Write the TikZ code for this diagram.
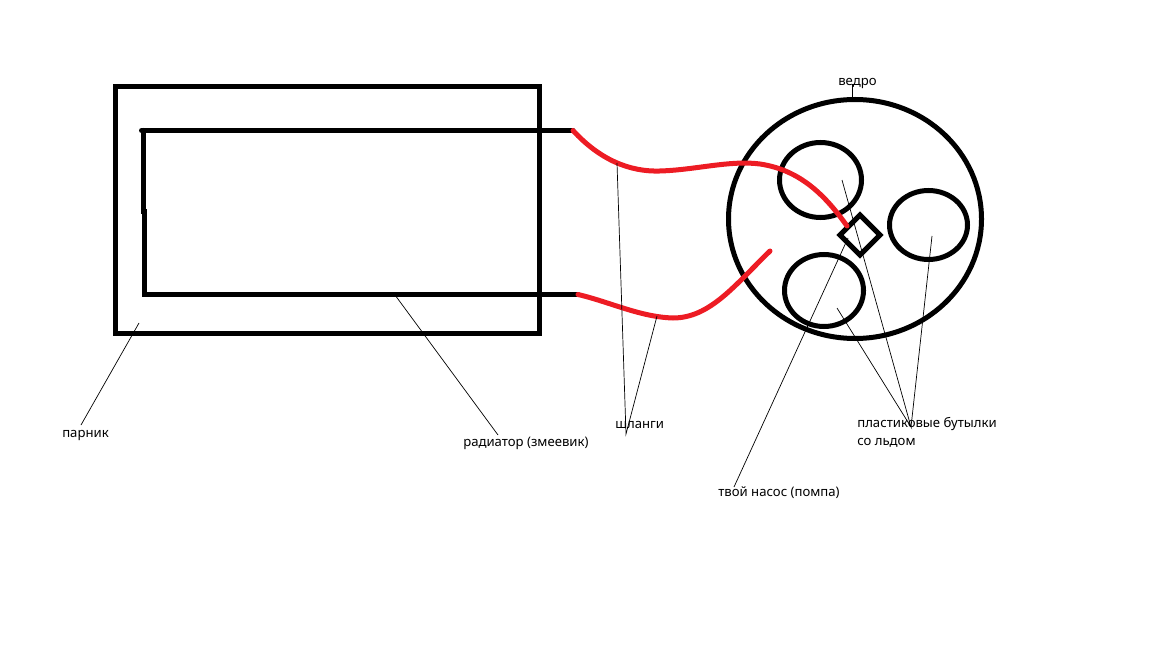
\documentclass[tikz,border=0pt]{standalone}
\usepackage{fontspec}
\setmainfont{Noto Sans}
\usetikzlibrary{shapes.geometric}
\def\px{0.25mm}
\tikzset{
  bold/.style={draw,line width=5*\px,inner sep=0pt,outer sep=0pt},
  bottle/.style={bold,ellipse},
  hose/.style={line width=5*\px,draw={rgb,255:red,237;green,28;blue,36},line cap=round},
  pipe/.style={line width=5*\px,line cap=round},
  leader/.style={line width=0.7*\px},
  txt/.style={font=\fontsize{9.35pt}{12.8pt}\selectfont,inner sep=0pt,text=black}
}
\begin{document}
\begin{tikzpicture}[x=\px,y=-\px]
\useasboundingbox (0,0) rectangle (1152,648);
\node[bold,rectangle,minimum width=424*\px,minimum height=246*\px] (box) at (327.5,210) {};
\node[bold,ellipse,minimum width=253*\px,minimum height=239*\px] (bucket) at (855,219) {};
\node[bottle,minimum width=82*\px,minimum height=75*\px] (b1) at (820.5,180) {};
\node[bottle,minimum width=78*\px,minimum height=69*\px] (b2) at (928.5,225) {};
\node[bottle,minimum width=79*\px,minimum height=72*\px] (b3) at (824,290.5) {};
\node[bold,diamond,minimum width=40*\px,minimum height=40*\px] (pump) at (860,235) {};
% radiator
\coordinate (r1) at (573,130.5);
\coordinate (r2) at (141.5,130.5);
\coordinate (r3) at (143.5,130.5);
\coordinate (r4) at (143.5,212);
\coordinate (r5) at (144.5,212);
\coordinate (r6) at (144.5,294.5);
\coordinate (r7) at (578,294.5);
\draw[pipe] (r1) -- (r2);
\draw[pipe] (r3) -- (r4) -- (r5) -- (r6) -- (r7);
% hoses
\coordinate (h1) at (847,226);
\coordinate (h2) at (770,251);
\draw[hose] (r1) .. controls (600,160) and (630,172) .. (660,171) .. controls (695,170) and (730,160) .. (760,164) .. controls (800,170) and (825,195) .. (h1);
\draw[hose] (r7) .. controls (610,302) and (640,317) .. (673,318) .. controls (710,318) and (735,285) .. (h2);
% labels
\node[txt,anchor=west] (parnik) at (62,435) {парник};
\node[txt,anchor=west] (radiator) at (463,443) {радиатор (змеевик)};
\node[txt,anchor=west] (shlangi) at (615,425) {шланги};
\node[txt,anchor=west] (nasos) at (718,493) {твой насос (помпа)};
\node[txt,anchor=north west,align=left] (bottles) at (857,417) {пластиковые бутылки\\со льдом};
\node[txt,anchor=west] (vedro) at (838,83) {ведро};
% leaders
\coordinate (l1a) at (139,323);
\coordinate (l1b) at (81,425);
\coordinate (l2a) at (395,295);
\coordinate (l2b) at (498,435);
\coordinate (l3a) at (617,163);
\coordinate (l3b) at (657,316);
\coordinate (l3c) at (626,434);
\coordinate (l4a) at (848,238);
\coordinate (l4b) at (734,487);
\coordinate (l5a) at (842,180);
\coordinate (l5b) at (837,308);
\coordinate (l5c) at (932,236);
\coordinate (l5d) at (911,427);
\coordinate (l6a) at (852,84);
\coordinate (l6b) at (852,98);
\draw[leader] (l1a) -- (l1b);
\draw[leader] (l2a) -- (l2b);
\draw[leader] (l3a) -- (l3c) -- (l3b);
\draw[leader] (l4a) -- (l4b);
\draw[leader] (l5a) -- (l5d) -- (l5b);
\draw[leader] (l5c) -- (l5d);
\draw[leader] (l6a) -- (l6b);
\end{tikzpicture}
\end{document}
